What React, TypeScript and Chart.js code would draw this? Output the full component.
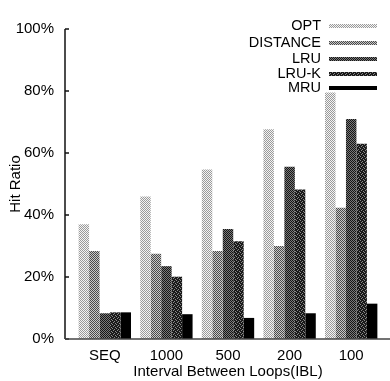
import { useEffect, useRef } from "react";
import { Chart, registerables } from "chart.js";
Chart.register(...registerables);

const categories = ["SEQ", "1000", "500", "200", "100"];
const seriesNames = ["OPT", "DISTANCE", "LRU", "LRU-K", "MRU"];
const optValues = [37, 46, 54.7, 67.7, 79.5];
const distanceValues = [28.4, 27.5, 28.4, 30, 42.3];
const lruValues = [8.3, 23.5, 35.5, 55.6, 71];
const lruKValues = [8.6, 20.1, 31.5, 48.2, 63];
const mruValues = [8.6, 8, 6.8, 8.3, 11.4];
const yTickStep = 20;
const yMax = 100;
const xTitle = "Interval Between Loops(IBL)";
const yTitle = "Hit Ratio";

const FONT = "'Liberation Sans', Arial, Helvetica, sans-serif";

function makePattern(bg: string, fg: string, grid: number[][]) {
  const c = document.createElement("canvas");
  const n = grid.length;
  c.width = n;
  c.height = n;
  const g = c.getContext("2d")!;
  g.fillStyle = bg;
  g.fillRect(0, 0, n, n);
  g.fillStyle = fg;
  for (let y = 0; y < n; y++)
    for (let x = 0; x < n; x++) if (grid[y][x]) g.fillRect(x, y, 1, 1);
  return g.createPattern(c, "repeat")!;
}

export default function App() {
  const ref = useRef<HTMLCanvasElement>(null);
  useEffect(() => {
    document.body.style.margin = "0";
    const checker = [
      [1, 0, 1, 0],
      [0, 1, 0, 1],
      [1, 0, 1, 0],
      [0, 1, 0, 1],
    ];
    const sparse = [
      [1, 0, 0, 0],
      [0, 0, 1, 0],
      [0, 1, 0, 0],
      [0, 0, 0, 1],
    ];
    const fills = [
      makePattern("#f4f4f4", "#9a9a9a", checker),
      makePattern("#c8c8c8", "#4a4a4a", checker),
      makePattern("#7a7a7a", "#151515", checker),
      makePattern("#1a1a1a", "#8a8a8a", sparse),
      "#000000",
    ];
    const values = [optValues, distanceValues, lruValues, lruKValues, mruValues];

    const axesPlugin = {
      id: "axesPlugin",
      afterDraw(chart: any) {
        const ctx = chart.ctx;
        const y = chart.scales.y;
        const x0 = 65;
        const yBottom = y.getPixelForValue(0);
        const yTop = y.getPixelForValue(yMax);
        ctx.save();
        ctx.strokeStyle = "#111";
        ctx.lineWidth = 1.5;
        ctx.beginPath();
        ctx.moveTo(x0, yTop);
        ctx.lineTo(x0, yBottom);
        ctx.stroke();
        for (let v = 0; v <= yMax; v += yTickStep) {
          const py = y.getPixelForValue(v);
          ctx.beginPath();
          ctx.moveTo(x0, py);
          ctx.lineTo(x0 + 4, py);
          ctx.stroke();
        }
        ctx.strokeStyle = "#444";
        ctx.lineWidth = 1.5;
        ctx.beginPath();
        ctx.moveTo(x0, yBottom);
        ctx.lineTo(390, yBottom);
        ctx.stroke();

        // legend
        ctx.font = `14.5px ${FONT}`;
        ctx.fillStyle = "#000";
        ctx.textAlign = "right";
        ctx.textBaseline = "middle";
        const rows = [26, 43, 59, 74, 88];
        seriesNames.forEach((name, i) => {
          ctx.fillStyle = "#000";
          ctx.fillText(name, 321, rows[i]);
          ctx.fillStyle = fills[i];
          ctx.fillRect(329, rows[i] - 2, 48, 4);
        });
        ctx.restore();
      },
    };

    const chart = new Chart(ref.current!, {
      type: "bar",
      data: {
        labels: categories,
        datasets: seriesNames.map((name, i) => ({
          label: name,
          data: values[i],
          backgroundColor: fills[i] as any,
          borderWidth: 0,
          categoryPercentage: 0.85,
          barPercentage: 1,
        })),
      },
      options: {
        animation: false,
        responsive: false,
        maintainAspectRatio: false,
        layout: { padding: { top: 15, right: 8, left: 0, bottom: 0 } },
        plugins: { legend: { display: false }, tooltip: { enabled: false } },
        scales: {
          x: {
            grid: { display: false, drawTicks: false },
            border: { display: false },
            ticks: { color: "#000", font: { size: 15, family: FONT }, padding: 8 },
            title: {
              display: true,
              text: xTitle,
              color: "#000",
              font: { size: 15, family: FONT },
              padding: { top: 0, bottom: 0 },
            },
            afterFit: (s: any) => {
              s.height = 42;
            },
          },
          y: {
            min: 0,
            max: yMax,
            grid: { display: false, drawTicks: false },
            border: { display: false },
            ticks: {
              stepSize: yTickStep,
              color: "#000",
              font: { size: 15, family: FONT },
              padding: 20,
              callback: (v: any) => `${v}%`,
            },
            title: {
              display: true,
              text: yTitle,
              color: "#000",
              font: { size: 15, family: FONT },
              padding: { top: 7, bottom: 0 },
            },
            afterFit: (s: any) => {
              s.width = 74;
            },
          },
        },
      },
      plugins: [axesPlugin],
    });
    return () => chart.destroy();
  }, []);
  return (
    <div style={{ position: "absolute", left: 0, top: 0, width: 390, height: 381, background: "#fff" }}>
      <canvas ref={ref} width={390} height={381} style={{ width: 390, height: 381 }} />
    </div>
  );
}
